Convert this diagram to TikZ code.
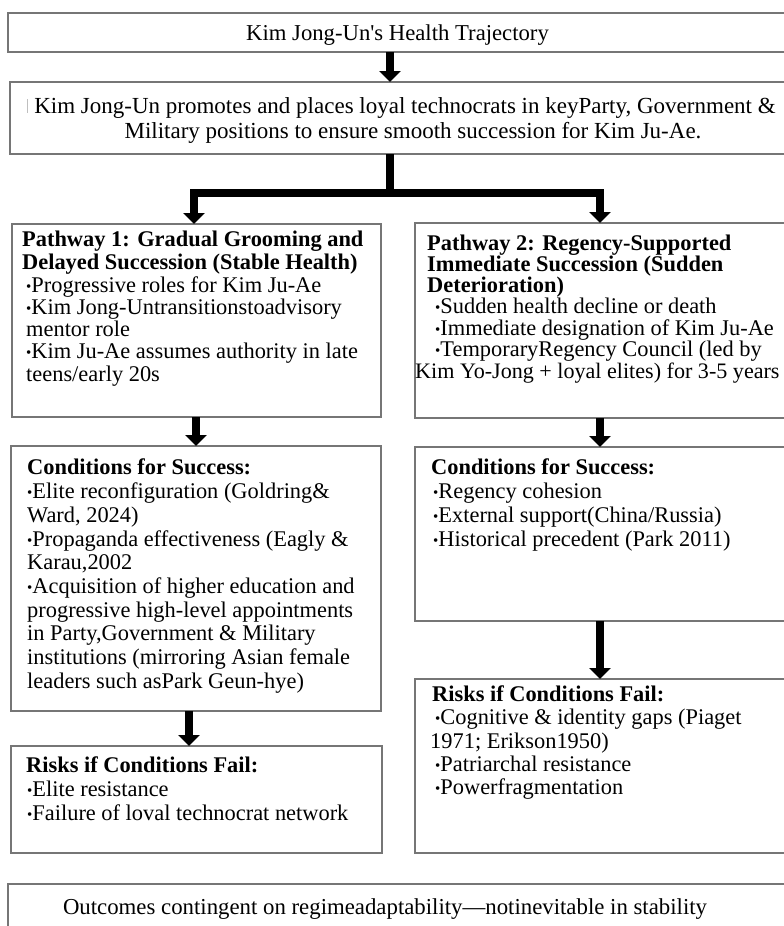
\documentclass[tikz,border=0pt]{standalone}
\usepackage{fontspec}
\setmainfont{Liberation Serif}
\newfontfamily\fTop{Liberation Serif}
\usetikzlibrary{arrows.meta}
\definecolor{boxgray}{RGB}{118,118,118}
\newcommand\bul{{\fontsize{15}{15}\selectfont\raisebox{1pt}{•}}}
\begin{document}
\begin{tikzpicture}[x=1pt,y=-1pt,
  box/.style={draw=boxgray, line width=1.6pt, anchor=north west, inner sep=0pt, outer sep=0pt, fill=white},
  ln/.style={anchor=base west, inner sep=0pt, font=\fTop\fontsize{22.4}{23}\selectfont},
  arr/.style={line width=8pt, line join=miter, -{Triangle[width=21pt,length=11pt]}},
]
\path[use as bounding box] (0,0) rectangle (784,926);
\clip (0,0) rectangle (784,926);
\fill[white] (0,0) rectangle (784,926);

% boxes
\node[box, minimum width=779pt, minimum height=39pt] (top) at (8,13) {};
\node[box, minimum width=777pt, minimum height=72pt] (mid) at (10,82) {};
\node[box, minimum width=369pt, minimum height=193pt] (p1) at (12,224) {};
\node[box, minimum width=372pt, minimum height=195pt] (p2) at (415,223) {};
\node[box, minimum width=370pt, minimum height=265pt] (c1) at (11,446) {};
\node[box, minimum width=371pt, minimum height=107pt] (r1) at (11,746) {};
\node[box, minimum width=372pt, minimum height=174pt] (c2) at (415,447) {};
\node[box, minimum width=372pt, minimum height=174pt] (r2) at (415,679) {};
\node[box, minimum width=779pt, minimum height=60pt] (bot) at (8,884) {};

% connector x positions
\coordinate (xa) at (390,0);
\coordinate (xj) at (390,193);
\coordinate (xl) at (194,0);
\coordinate (xr) at (600,0);
\coordinate (xp1) at (196,0);
\coordinate (xc1) at (189,0);

% connectors
\draw[arr] (top.south -| xa) -- (mid.north -| xa);
\draw[line width=8pt] (mid.south -| xa) -- (xj);
\draw[arr] ([xshift=4pt]xj) -- (xj -| xl) -- (p1.north -| xl);
\draw[arr] ([xshift=-4pt]xj) -- (xj -| xr) -- (p2.north -| xr);
\draw[arr] (p1.south -| xp1) -- (c1.north -| xp1);
\draw[arr] (c1.south -| xc1) -- (r1.north -| xc1);
\draw[arr] (p2.south -| xr) -- (c2.north -| xr);
\draw[arr] (c2.south -| xr) -- (r2.north -| xr);

% texts
\node[anchor=base, inner sep=0pt, font=\fTop\fontsize{22.7}{24}\selectfont] (tt) at (397.5,40) {Kim Jong-Un's Health Trajectory};
\draw[gray!50, line width=0.6pt] (27,99) -- (27,113);
\node[anchor=base, inner sep=0pt, font=\fTop\fontsize{23}{25}\selectfont] (m1) at (405,113) {Kim Jong-Un promotes and places loyal technocrats in keyParty, Government \&};
\node[anchor=base, inner sep=0pt, font=\fTop\fontsize{23}{25}\selectfont] (m2) at (413,138) {Military positions to ensure smooth succession for Kim Ju-Ae.};

\foreach \x/\y/\t [count=\i] in {
  22/246/{\textbf{Pathway 1: Gradual Grooming and}},
  22/269/{\textbf{Delayed Succession (Stable Health)}},
  26/292/{\bul Progressive roles for Kim Ju-Ae},
  26/314/{\bul Kim Jong-Untransitionstoadvisory},
  26/336/{mentor role},
  26/358/{\bul Kim Ju-Ae assumes authority in late},
  26/381/{teens/early 20s}}
  {\node[ln] (pa\i) at (\x,\y) {\t};}

\foreach \x/\y/\t [count=\i] in {
  427/250/{\textbf{Pathway 2: Regency-Supported}},
  427/271/{\textbf{Immediate Succession (Sudden}},
  427/292/{\textbf{Deterioration)}},
  435/313.5/{\bul Sudden health decline or death},
  435/335/{\bul Immediate designation of Kim Ju-Ae},
  435/356.5/{\bul TemporaryRegency Council (led by}}
  {\node[ln] (pb\i) at (\x,\y) {\t};}
\node[anchor=base west, inner sep=0pt, font=\fTop\fontsize{22.1}{23}\selectfont] (pb7) at (415,378) {Kim Yo-Jong + loyal elites) for 3-5 years};

\foreach \x/\y/\t [count=\i] in {
  27/474/{\textbf{Conditions for Success:}},
  27/498/{\bul Elite reconfiguration (Goldring\&},
  27/522/{Ward, 2024)},
  27/546/{\bul Propaganda effectiveness (Eagly \&},
  27/569/{Karau,2002},
  27/593/{\bul Acquisition of higher education and},
  27/617/{progressive high-level appointments},
  27/640/{in Party,Government \& Military},
  27/664/{institutions (mirroring Asian female},
  27/688/{leaders such asPark Geun-hye)}}
  {\node[ln] (ca\i) at (\x,\y) {\t};}

\foreach \x/\y/\t [count=\i] in {
  26/772/{\textbf{Risks if Conditions Fail:}},
  27/796/{\bul Elite resistance},
  27/820/{\bul Failure of loval technocrat network}}
  {\node[ln] (ra\i) at (\x,\y) {\t};}

\foreach \x/\y/\t [count=\i] in {
  431/474/{\textbf{Conditions for Success:}},
  433/498/{\bul Regency cohesion},
  433/522/{\bul External support(China/Russia)},
  433/546/{\bul Historical precedent (Park 2011)}}
  {\node[ln] (cb\i) at (\x,\y) {\t};}

\foreach \x/\y/\t [count=\i] in {
  432/701/{\textbf{Risks if Conditions Fail:}},
  435/724/{\bul Cognitive \& identity gaps (Piaget},
  430/748/{1971; Erikson1950)},
  435/771/{\bul Patriarchal resistance},
  435/794/{\bul Powerfragmentation}}
  {\node[ln] (rb\i) at (\x,\y) {\t};}

\node[anchor=base, inner sep=0pt, font=\fTop\fontsize{22.8}{24}\selectfont] (bt) at (385,914) {Outcomes contingent on regimeadaptability—notinevitable in stability};
\end{tikzpicture}
\end{document}
